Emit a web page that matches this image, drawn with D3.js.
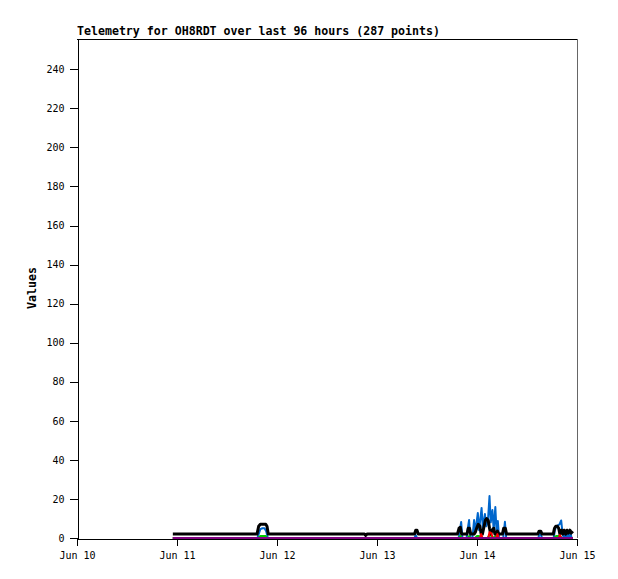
<!DOCTYPE html>
<html><head><meta charset="utf-8">
<script src="https://cdn.jsdelivr.net/npm/d3@7"></script>
<style>
html,body{margin:0;padding:0;background:#fff;}
svg{display:block;}
.tick text{font-family:"DejaVu Sans Mono",monospace;font-size:10px;fill:#000;}
</style></head>
<body>
<script>
// ---- data (hours since Jun 10 00:00 UTC, value) ----
const titleText = "Telemetry for OH8RDT over last 96 hours (287 points)";
const yLabel = "Values";
const yTickValues = [0,20,40,60,80,100,120,140,160,180,200,220,240];
const xTickDays = [10,11,12,13,14,15];
const xTickLabels = ["Jun 10","Jun 11","Jun 12","Jun 13","Jun 14","Jun 15"];

const blueHours  = [23,43.3,43.6,44.0,44.5,45.0,45.4,45.8,81.0,81.3,81.6,91.6,91.9,92.2,92.5,93.5,93.8,94.1,94.4,94.9,95.3,95.6,96.2,96.5,97.1,97.4,97.9,98.2,98.6,99.0,99.3,99.7,100.0,100.4,100.7,101.0,101.3,102.3,102.7,103.0,110.7,111.0,111.3,111.6,114.4,114.7,115.0,115.4,115.8,116.2,116.5,116.8,117.0,117.3,117.7,118.0,118.4,118.7,119];
const blueValues = [0,0,2,4.5,5,5,3.5,0,0,1.5,0,0,4,8.2,0,0,5,9.2,0,0,9.2,3,12.8,4,15.4,5,12.3,6,8,21.5,8,14.3,4,15.9,3,8.7,0,0,8.3,0,0,2,2,0,0,4,6,6.5,7,9,3,0,3,0,3,0,3,0,0];

const greenHours  = [23,43.5,44,45.3,45.6,91.6,92,92.3,93.8,94.1,94.4,95.5,96,96.5,97,98.5,99,99.5,100,100.5,101,114.5,115,116,116.3,119];
const greenValues = [0,0,1,1,0,0,1,0,0,1,0,0,1,1,0,0,1.5,1,0,1,0,0,1,1,0,0];

const blackHours  = [23,43.2,43.6,44.0,44.7,45.3,45.6,45.9,69.0,69.3,69.6,81.0,81.3,81.6,81.9,91.3,91.7,92.0,92.3,93.6,93.9,94.2,94.5,95.3,95.6,96.0,96.3,96.7,97.0,97.3,97.7,98.0,98.3,98.7,99.0,99.3,99.6,100.0,100.3,100.6,100.9,101.2,102.1,102.4,102.8,103.1,110.6,110.9,111.3,111.6,114.3,114.6,114.9,115.3,115.6,115.9,116.3,116.6,116.9,117.3,117.6,117.9,118.3,118.6,119];
const blackValues = [2,2,6,7,7,7,6,2,2,1.3,2,2,4,4,2,2,5,5.5,2,2,5,5,2,2,3,5.5,7,6,2,2,6,9,10,9,5,2,4,5,2,2,3.5,2,2,5,5,2,2,3.5,3.5,2,2,5,6,6,5,2,4,2,4,2,4,2.5,4,2.5,3.5];

const redHours  = [23,96.7,97.0,97.3,98.7,99.0,99.4,99.8,100.6,100.9,101.2,115.6,115.9,116.2,119];
const redValues = [0,0,2,0,0,3,2.5,0,0,2,0,0,1.5,0,0];

const purpleHours  = [23,119];
const purpleValues = [0,0];

// ---- chart ----
const W = 618, H = 579;
const mLeft = 77, mRight = 577, mTop = 39, mBottom = 538;
const t0 = Date.UTC(2024,5,10);
const toDate = h => new Date(t0 + h*3600e3);

const svg = d3.select("body").append("svg").attr("width",W).attr("height",H);

const x = d3.scaleUtc().domain([toDate(0), toDate(120)]).range([mLeft,mRight]);
const y = d3.scaleLinear().domain([0,255.5]).range([mBottom,mTop]);

// frame: top black, right gray
svg.append("line").attr("x1",mLeft).attr("x2",mRight).attr("y1",mTop+0.5).attr("y2",mTop+0.5).attr("stroke","#000");
svg.append("line").attr("x1",mRight+0.5).attr("x2",mRight+0.5).attr("y1",mTop).attr("y2",mBottom).attr("stroke","#666");

const series = [
  {h:blueHours, v:blueValues, c:"#0066cc", w:2},
  {h:greenHours, v:greenValues, c:"#00cc00", w:2},
  {h:blackHours, v:blackValues, c:"#000000", w:3},
  {h:redHours, v:redValues, c:"#ff0000", w:2},
  {h:purpleHours, v:purpleValues, c:"#800080", w:2}
];
const line = d3.line().x(d=>x(d[0])).y(d=>y(d[1]));
series.forEach(s=>{
  const pts = s.h.map((h,i)=>[toDate(h), s.v[i]]);
  svg.append("path").datum(pts).attr("d",line).attr("fill","none")
    .attr("stroke",s.c).attr("stroke-width",s.w).attr("stroke-linejoin","round");
});

// axes
const yAxis = d3.axisLeft(y).tickValues(yTickValues).tickSize(8).tickSizeOuter(0).tickPadding(5);
const gy = svg.append("g").attr("transform",`translate(${mLeft+0.5},0)`).call(yAxis);
const xDates = xTickDays.map(d=>new Date(Date.UTC(2024,5,d)));
const xAxis = d3.axisBottom(x).tickValues(xDates).tickFormat((d,i)=>xTickLabels[i]).tickSize(7).tickSizeOuter(0).tickPadding(6);
const gx = svg.append("g").attr("transform",`translate(0,${mBottom+0.5})`).call(xAxis);
[gx,gy].forEach(g=>{g.selectAll("path,line").attr("stroke","#000").attr("shape-rendering","crispEdges");});

// title
svg.append("text").attr("x",mLeft).attr("y",35)
  .attr("font-family","'DejaVu Sans Mono',monospace").attr("font-weight","bold").attr("font-size","11.6px")
  .text(titleText);
// y label
svg.append("text").attr("transform","translate(36,288) rotate(-90)").attr("text-anchor","middle")
  .attr("font-family","'DejaVu Sans Mono',monospace").attr("font-weight","bold").attr("font-size","11.6px")
  .text(yLabel);
</script>
</body></html>
